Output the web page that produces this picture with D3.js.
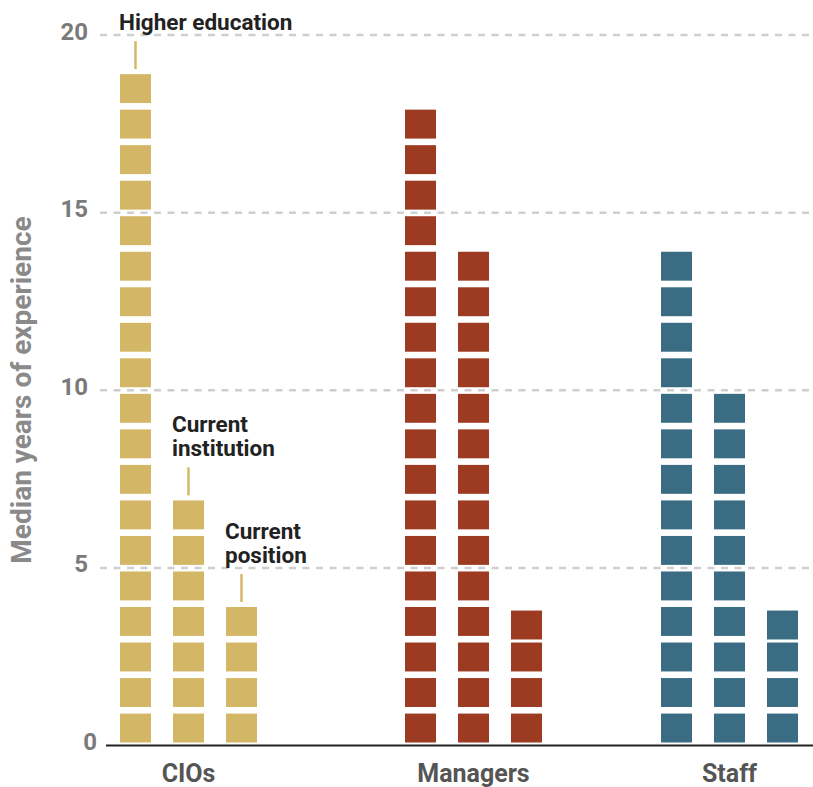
<!DOCTYPE html>
<html>
<head>
<meta charset="utf-8">
<script src="https://cdn.jsdelivr.net/npm/d3@7"></script>
<style>
  html, body { margin: 0; padding: 0; background: #fff; }
  svg { display: block; font-family: Roboto, "Noto Sans", sans-serif; }
</style>
</head>
<body>
<svg id="chart" width="813" height="787"></svg>
<script>
// Median years of experience by role
const groups = ["CIOs", "Managers", "Staff"];
const seriesNames = ["Higher education", "Current institution", "Current position"];
const higherEducation = [19, 18, 14];
const currentInstitution = [7, 14, 10];
const currentPosition = [4, 3.9, 3.9];
const yTicks = [0, 5, 10, 15, 20];
const groupColors = ["#d4b766", "#9c3b22", "#3a6d83"];
const annotationLines = [["Higher education"], ["Current", "institution"], ["Current", "position"]];

const seriesValues = [higherEducation, currentInstitution, currentPosition];

const svg = d3.select("#chart");
const W = 813;

const y = d3.scaleLinear().domain([0, 20]).range([745.5, 35]);
const x = d3.scaleOrdinal().domain(groups).range([188.5, 473.5, 729.5]);
const xInner = d3.scaleBand().domain(seriesNames).range([-68.5, 68.5]).paddingInner(22 / 53).paddingOuter(0);

// dashed gridlines
svg.append("g")
  .selectAll("line")
  .data(yTicks.filter(t => t > 0))
  .join("line")
  .attr("x1", 100).attr("x2", W)
  .attr("y1", d => y(d)).attr("y2", d => y(d))
  .attr("stroke", "#cfcfcf")
  .attr("stroke-width", 2.5)
  .attr("stroke-dasharray", "7 6.5");

// y tick labels
svg.append("g")
  .selectAll("text")
  .data(yTicks)
  .join("text")
  .attr("x", d => d === 0 ? 97 : 88)
  .attr("y", d => y(d) + 4.5)
  .attr("text-anchor", "end")
  .attr("font-size", 24)
  .attr("font-weight", 700)
  .attr("fill", "#7a7a7a")
  .text(d => d);

// y axis title
svg.append("text")
  .attr("transform", "translate(31,390) rotate(-90)")
  .attr("text-anchor", "middle")
  .attr("font-size", 28)
  .attr("font-weight", 700)
  .attr("fill", "#8a8a8a")
  .text("Median years of experience");

// unit blocks: one block per year, the last one anchored to the value
const gapTop = 3.6, blockH = y(0) - y(1) - 6.6;
const bars = [];
groups.forEach((g, gi) => {
  seriesNames.forEach((s, si) => {
    bars.push({ group: g, gi, series: s, si, value: seriesValues[si][gi] });
  });
});

const barG = svg.append("g")
  .selectAll("g")
  .data(bars)
  .join("g")
  .attr("fill", d => groupColors[d.gi]);

barG.selectAll("rect")
  .data(d => d3.range(Math.ceil(d.value)).map(k => ({ k, bar: d })))
  .join("rect")
  .attr("x", d => x(d.bar.group) + xInner(d.bar.series))
  .attr("width", xInner.bandwidth())
  .attr("y", d => y(Math.min(d.k + 1, d.bar.value)) + gapTop)
  .attr("height", blockH);

// baseline
svg.append("line")
  .attr("x1", 106).attr("x2", W)
  .attr("y1", y(0)).attr("y2", y(0))
  .attr("stroke", "#222")
  .attr("stroke-width", 2);

// category labels
svg.append("g")
  .selectAll("text")
  .data(groups)
  .join("text")
  .attr("x", d => x(d))
  .attr("y", 782)
  .attr("text-anchor", "middle")
  .attr("font-size", 25)
  .attr("font-weight", 700)
  .attr("fill", "#555")
  .text(d => d);

// series annotations on the CIO group
const ann = svg.append("g")
  .selectAll("g")
  .data(bars.filter(b => b.gi === 0))
  .join("g");

ann.append("line")
  .attr("x1", d => x(d.group) + xInner(d.series) + xInner.bandwidth() / 2)
  .attr("x2", d => x(d.group) + xInner(d.series) + xInner.bandwidth() / 2)
  .attr("y1", d => y(d.value) + gapTop - 33)
  .attr("y2", d => y(d.value) + gapTop - 5)
  .attr("stroke", groupColors[0])
  .attr("stroke-width", 2.5);

ann.each(function (d) {
  const lines = annotationLines[d.si];
  const lastBase = y(d.value) + gapTop - 44;
  d3.select(this).append("text")
    .attr("font-size", 22.5)
    .attr("font-weight", 700)
    .attr("fill", "#222")
    .selectAll("tspan")
    .data(lines)
    .join("tspan")
    .attr("x", x(d.group) + xInner(d.series) - 1)
    .attr("y", (l, i) => lastBase - (lines.length - 1 - i) * 24)
    .text(l => l);
});
</script>
</body>
</html>
